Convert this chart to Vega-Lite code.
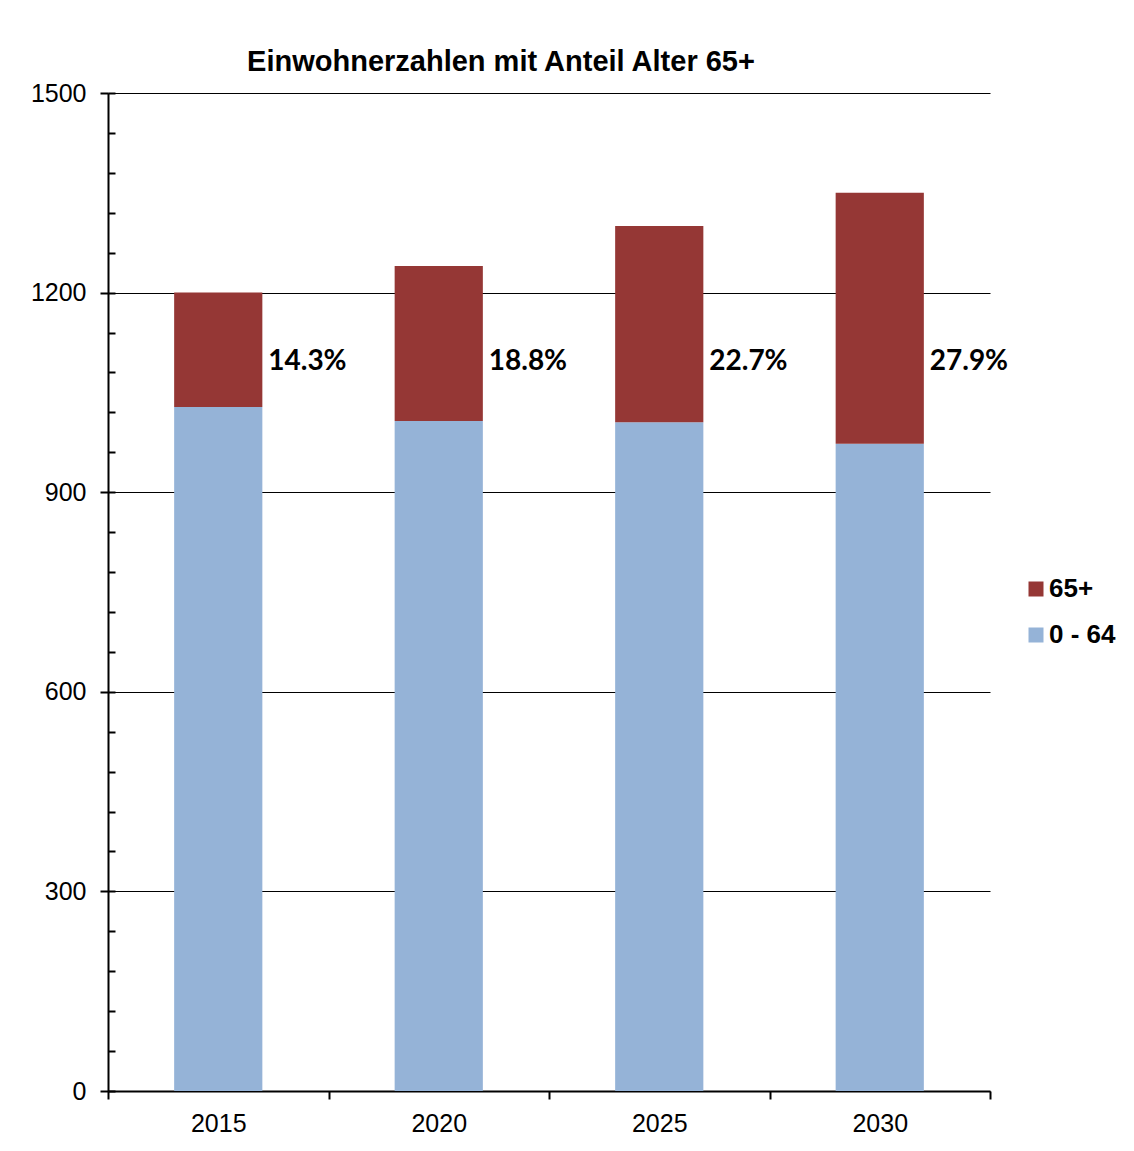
{
  "$schema": "https://vega.github.io/schema/vega-lite/v6.json",
  "autosize": "none",
  "width": 882,
  "height": 998,
  "padding": {"left": 108, "top": 93, "right": 144, "bottom": 60},
  "background": "white",
  "view": {"stroke": null},
  "title": {
    "text": "Einwohnerzahlen mit Anteil Alter 65+",
    "anchor": "middle",
    "frame": "group",
    "dx": -48,
    "offset": 4,
    "font": "Liberation Sans",
    "fontSize": 29,
    "fontWeight": "bold",
    "color": "#000000"
  },
  "data": {
    "values": [
      {"year": "2015", "group": "0 - 64", "value": 1028, "label": ""},
      {"year": "2015", "group": "65+", "value": 172, "label": "14.3%"},
      {"year": "2020", "group": "0 - 64", "value": 1007, "label": ""},
      {"year": "2020", "group": "65+", "value": 233, "label": "18.8%"},
      {"year": "2025", "group": "0 - 64", "value": 1005, "label": ""},
      {"year": "2025", "group": "65+", "value": 295, "label": "22.7%"},
      {"year": "2030", "group": "0 - 64", "value": 973, "label": ""},
      {"year": "2030", "group": "65+", "value": 377, "label": "27.9%"}
    ]
  },
  "layer": [
    {
      "mark": {"type": "bar", "width": {"band": 0.4}},
      "encoding": {
        "x": {
          "field": "year",
          "type": "ordinal",
          "scale": {"paddingInner": 0, "paddingOuter": 0},
          "axis": {
            "tickBand": "extent",
            "tickSize": 8,
            "tickColor": "#000000",
            "tickWidth": 2,
            "domainColor": "#000000",
            "domainWidth": 2,
            "labelFont": "Liberation Sans",
            "labelFontSize": 25,
            "labelColor": "#000000",
            "labelPadding": 12,
            "labelAngle": 0,
            "title": null
          }
        },
        "y": {
          "field": "value",
          "type": "quantitative",
          "stack": "zero",
          "scale": {"domain": [0, 1500], "nice": false},
          "axis": {
            "orient": "left",
            "values": [0, 300, 600, 900, 1200, 1500],
            "format": "d",
            "grid": true,
            "gridColor": "#000000",
            "gridWidth": 1.2,
            "domainColor": "#000000",
            "domainWidth": 2,
            "tickColor": "#000000",
            "tickWidth": 2,
            "tickSize": 8,
            "labelFont": "Liberation Sans",
            "labelFontSize": 25,
            "labelColor": "#000000",
            "labelPadding": 14,
            "title": null
          }
        },
        "color": {
          "field": "group",
          "type": "nominal",
          "scale": {"domain": ["65+", "0 - 64"], "range": ["#953735", "#95B3D7"]},
          "legend": {
            "orient": "none",
            "legendX": 915,
            "legendY": 483,
            "title": null,
            "symbolType": "square",
            "symbolSize": 225,
            "symbolStrokeWidth": 0,
            "labelFont": "Liberation Sans",
            "labelFontSize": 26,
            "labelFontWeight": "bold",
            "labelColor": "#000000",
            "labelOffset": 0,
            "rowPadding": 20
          }
        },
        "order": {"field": "group", "sort": "ascending"}
      }
    },
    {
      "transform": [{"filter": "datum.group === '65+'"}],
      "mark": {
        "type": "text",
        "align": "left",
        "baseline": "middle",
        "dx": 50,
        "font": "Lato",
        "fontSize": 28,
        "fontWeight": "bold",
        "color": "#000000"
      },
      "encoding": {
        "x": {"field": "year", "type": "ordinal"},
        "y": {
          "datum": 1096,
          "type": "quantitative",
          "axis": {
            "orient": "left",
            "values": [0, 60, 120, 180, 240, 300, 360, 420, 480, 540, 600, 660, 720, 780, 840, 900, 960, 1020, 1080, 1140, 1200, 1260, 1320, 1380, 1440, 1500],
            "tickSize": -7,
            "tickColor": "#000000",
            "tickWidth": 2,
            "labels": false,
            "domain": false,
            "grid": false,
            "title": null
          }
        },
        "text": {"field": "label"}
      }
    }
  ],
  "resolve": {"axis": {"y": "independent"}}
}
